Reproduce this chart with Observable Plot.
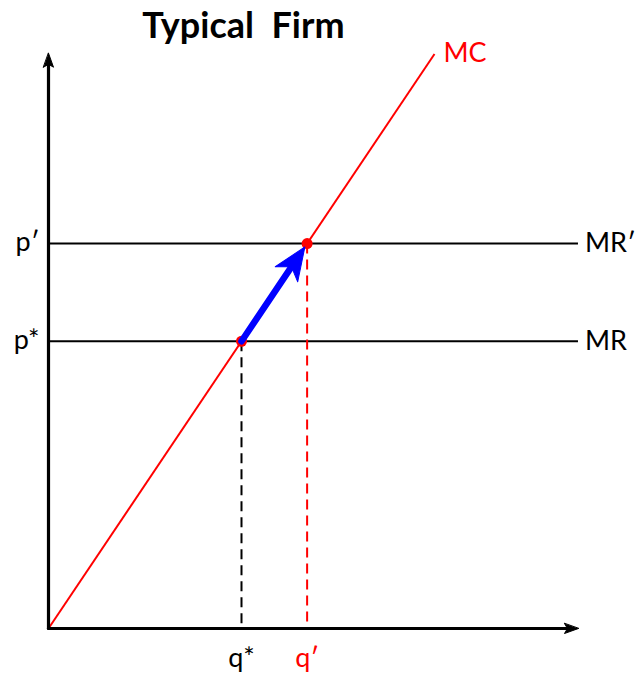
<!DOCTYPE html>
<html>
<head>
<meta charset="utf-8">
<script src="https://cdn.jsdelivr.net/npm/d3@7"></script>
<script src="https://cdn.jsdelivr.net/npm/@observablehq/plot@0.6"></script>
<style>
  html, body { margin: 0; padding: 0; background: #fff; }
  svg { display: block; }
</style>
</head>
<body>
<div id="chart"></div>
<script>
// Economic diagram values (abstract units)
const title = "Typical  Firm";
const qStar = 5, qPrime = 6.7;
const pStar = 7.5, pPrime = 10.05;
const mcStart = [0, 0], mcEnd = [10, 15];
const xAxisEnd = 13.73, yAxisEnd = 15.02;
const mrLabels = ["MR", "MR′"];
const mrLevels = [pStar, pPrime];
const pLabels = ["p*", "p′"];
const qLabels = ["q*", "q′"];
const qLevels = [qStar, qPrime];
const qColors = ["black", "red"];

const font = "Lato, 'Open Sans', sans-serif";

// scale setup
const xDomain = [0, 14], yDomain = [0, 16];
const pxX = 38.6, pxY = 38.3;
const xRange = [48, 48 + 14 * pxX];
const yRange = [628, 628 - 16 * pxY];

// filled "stealth" arrowhead shape for Plot.vector (tip drawn at (0,-l+inset))
function stealth(len, halfW, notch, inset) {
  return {
    draw(context, l) {
      const tip = -l + inset;
      const base = tip + len;
      context.moveTo(0, tip);
      context.lineTo(halfW, base);
      context.lineTo(0, base - notch);
      context.lineTo(-halfW, base);
      context.closePath();
    }
  };
}
const axisHead = stealth(14, 5, 3, 0);
const blueHead = stealth(33, 13.5, 9, 4);
// screen angle of the shift arrow (clockwise from up)
const blueAngle = Math.atan2((qPrime - qStar) * pxX, (pPrime - pStar) * pxY) * 180 / Math.PI;

const chart = Plot.plot({
  width: 642,
  height: 674,
  x: {domain: xDomain, range: xRange, axis: null},
  y: {domain: yDomain, range: yRange, axis: null},
  style: {fontFamily: font, background: "white"},
  marks: [
    // MR lines
    Plot.ruleY(mrLevels, {x1: 0, x2: xAxisEnd, y: d => d, stroke: "black", strokeWidth: 2}),
    // MC line
    Plot.link([{x1: mcStart[0], y1: mcStart[1], x2: mcEnd[0], y2: mcEnd[1]}],
      {x1: "x1", y1: "y1", x2: "x2", y2: "y2", stroke: "red", strokeWidth: 2}),
    // dashed drop lines
    Plot.link(qLevels.map((q, i) => ({q, p: mrLevels[i], c: qColors[i]})),
      {x1: "q", x2: "q", y1: "p", y2: 0, stroke: "c", strokeWidth: 2, strokeDasharray: "10,6"}),
    // axes
    Plot.arrow([{x1: 0, y1: 0, x2: xAxisEnd, y2: 0}, {x1: 0, y1: 0, x2: 0, y2: yAxisEnd}],
      {x1: "x1", y1: "y1", x2: "x2", y2: "y2", stroke: "black", strokeWidth: 3.2, headLength: 0, insetEnd: 10}),
    Plot.vector([{x: xAxisEnd, y: 0, r: 90}, {x: 0, y: yAxisEnd, r: 0}],
      {x: "x", y: "y", rotate: "r", length: 14, anchor: "end", shape: axisHead, fill: "black", stroke: "black", strokeWidth: 1}),
    // equilibrium points
    Plot.dot(qLevels.map((q, i) => ({q, p: mrLevels[i]})),
      {x: "q", y: "p", r: 5.5, fill: "red", stroke: "none"}),
    // blue shift arrow
    Plot.arrow([{x1: qStar, y1: pStar, x2: qPrime, y2: pPrime}],
      {x1: "x1", y1: "y1", x2: "x2", y2: "y2", stroke: "blue", strokeWidth: 6.5, headLength: 0, insetEnd: 20}),
    Plot.vector([{x: qPrime, y: pPrime}],
      {x: "x", y: "y", rotate: blueAngle, length: 37, anchor: "end", shape: blueHead, fill: "blue", stroke: "blue", strokeWidth: 1}),
    // labels
    Plot.text(mrLabels.map((t, i) => ({t, p: mrLevels[i]})),
      {x: 13.9, y: "p", text: "t", textAnchor: "start", fontSize: 27, fill: "black"}),
    Plot.text(pLabels.map((t, i) => ({t, p: mrLevels[i]})),
      {x: 0, y: "p", text: "t", textAnchor: "end", fontSize: 27, fill: "black", dx: -9, dy: -1}),
    Plot.text(qLabels.map((t, i) => ({t, q: qLevels[i], c: qColors[i]})),
      {x: "q", y: 0, text: "t", textAnchor: "middle", fontSize: 27, fill: "c", dy: 30}),
    Plot.text(["MC"], {x: mcEnd[0], y: mcEnd[1], text: d => d, textAnchor: "start", fontSize: 27, fill: "red", dx: 9, dy: -1}),
    Plot.text([title], {x: 5.05, y: 15.72, text: d => d, fontSize: 36, fontWeight: "bold", fill: "black", style: "white-space: pre"})
  ]
});
document.getElementById("chart").append(chart);
</script>
</body>
</html>
